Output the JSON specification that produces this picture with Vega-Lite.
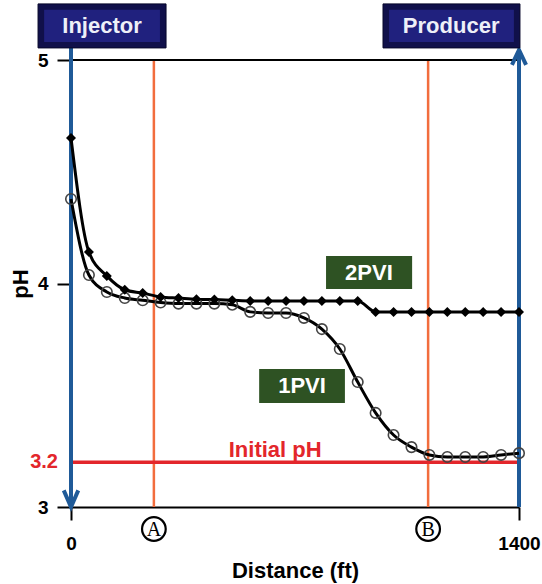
{
  "$schema": "https://vega.github.io/schema/vega-lite/v6.json",
  "width": 448,
  "height": 447,
  "autosize": "none",
  "padding": {"left": 71, "top": 60, "right": 23, "bottom": 77},
  "background": "white",
  "config": {"view": {"stroke": null}, "font": "Liberation Sans"},
  "datasets": {
    "ph": [
      {"series": "2PVI", "distance": 0, "ph": 4.651},
      {"series": "2PVI", "distance": 56, "ph": 4.141},
      {"series": "2PVI", "distance": 112, "ph": 4.034},
      {"series": "2PVI", "distance": 168, "ph": 3.972},
      {"series": "2PVI", "distance": 224, "ph": 3.957},
      {"series": "2PVI", "distance": 280, "ph": 3.94},
      {"series": "2PVI", "distance": 336, "ph": 3.935},
      {"series": "2PVI", "distance": 392, "ph": 3.93},
      {"series": "2PVI", "distance": 448, "ph": 3.928},
      {"series": "2PVI", "distance": 504, "ph": 3.925},
      {"series": "2PVI", "distance": 560, "ph": 3.922},
      {"series": "2PVI", "distance": 616, "ph": 3.922},
      {"series": "2PVI", "distance": 672, "ph": 3.922},
      {"series": "2PVI", "distance": 728, "ph": 3.922},
      {"series": "2PVI", "distance": 784, "ph": 3.922},
      {"series": "2PVI", "distance": 840, "ph": 3.922},
      {"series": "2PVI", "distance": 896, "ph": 3.922},
      {"series": "2PVI", "distance": 952, "ph": 3.873},
      {"series": "2PVI", "distance": 1008, "ph": 3.873},
      {"series": "2PVI", "distance": 1064, "ph": 3.873},
      {"series": "2PVI", "distance": 1120, "ph": 3.873},
      {"series": "2PVI", "distance": 1176, "ph": 3.873},
      {"series": "2PVI", "distance": 1232, "ph": 3.873},
      {"series": "2PVI", "distance": 1288, "ph": 3.873},
      {"series": "2PVI", "distance": 1344, "ph": 3.873},
      {"series": "2PVI", "distance": 1400, "ph": 3.873},
      {"series": "1PVI", "distance": 0, "ph": 4.378},
      {"series": "1PVI", "distance": 56, "ph": 4.038},
      {"series": "1PVI", "distance": 112, "ph": 3.962},
      {"series": "1PVI", "distance": 168, "ph": 3.935},
      {"series": "1PVI", "distance": 224, "ph": 3.925},
      {"series": "1PVI", "distance": 280, "ph": 3.915},
      {"series": "1PVI", "distance": 336, "ph": 3.91},
      {"series": "1PVI", "distance": 392, "ph": 3.91},
      {"series": "1PVI", "distance": 448, "ph": 3.91},
      {"series": "1PVI", "distance": 504, "ph": 3.905},
      {"series": "1PVI", "distance": 560, "ph": 3.873},
      {"series": "1PVI", "distance": 616, "ph": 3.868},
      {"series": "1PVI", "distance": 672, "ph": 3.868},
      {"series": "1PVI", "distance": 728, "ph": 3.846},
      {"series": "1PVI", "distance": 784, "ph": 3.796},
      {"series": "1PVI", "distance": 840, "ph": 3.707},
      {"series": "1PVI", "distance": 896, "ph": 3.559},
      {"series": "1PVI", "distance": 952, "ph": 3.421},
      {"series": "1PVI", "distance": 1008, "ph": 3.322},
      {"series": "1PVI", "distance": 1064, "ph": 3.268},
      {"series": "1PVI", "distance": 1120, "ph": 3.233},
      {"series": "1PVI", "distance": 1176, "ph": 3.224},
      {"series": "1PVI", "distance": 1232, "ph": 3.224},
      {"series": "1PVI", "distance": 1288, "ph": 3.224},
      {"series": "1PVI", "distance": 1344, "ph": 3.233},
      {"series": "1PVI", "distance": 1400, "ph": 3.241}
    ]
  },
  "layer": [
    {
      "data": {"values": [{"distance": 259}, {"distance": 1116}]},
      "mark": {"type": "rule", "color": "#f26d3d", "strokeWidth": 2.5},
      "encoding": {
        "x": {"field": "distance", "type": "quantitative", "scale": {"domain": [0, 1400], "nice": false, "zero": false}},
        "y": {"datum": 3, "type": "quantitative", "scale": {"domain": [3, 5], "nice": false, "zero": false}},
        "y2": {"datum": 5}
      }
    },
    {
      "data": {"values": [{"distance": 0, "distance2": 1400, "ph": 5}]},
      "mark": {"type": "rule", "color": "black", "strokeWidth": 2},
      "encoding": {
        "x": {"field": "distance", "type": "quantitative", "scale": {"domain": [0, 1400], "nice": false, "zero": false}},
        "x2": {"field": "distance2"},
        "y": {"field": "ph", "type": "quantitative", "scale": {"domain": [3, 5], "nice": false, "zero": false}}
      }
    },
    {
      "data": {"values": [{"distance": 0, "distance2": 1400, "ph": 3.2}]},
      "mark": {"type": "rule", "color": "#e3262b", "strokeWidth": 3.5},
      "encoding": {
        "x": {"field": "distance", "type": "quantitative", "scale": {"domain": [0, 1400], "nice": false, "zero": false}},
        "x2": {"field": "distance2"},
        "y": {"field": "ph", "type": "quantitative", "scale": {"domain": [3, 5], "nice": false, "zero": false}}
      }
    },
    {
      "data": {"values": [{"distance": 0, "ph": 3, "ph2": 5.06}, {"distance": 1400, "ph": 3, "ph2": 5.045}]},
      "mark": {"type": "rule", "color": "#1f5a98", "strokeWidth": 4},
      "encoding": {
        "x": {"field": "distance", "type": "quantitative", "scale": {"domain": [0, 1400], "nice": false, "zero": false}},
        "y": {"field": "ph", "type": "quantitative", "scale": {"domain": [3, 5], "nice": false, "zero": false}},
        "y2": {"field": "ph2"}
      }
    },
    {
      "data": {"values": [{"distance": 0, "ph": 3}]},
      "mark": {"type": "point", "shape": "M-1,-2.3L0,0L1,-2.3", "filled": false, "stroke": "#1f5a98", "strokeWidth": 4, "size": 210, "opacity": 1, "strokeJoin": "miter"},
      "encoding": {
        "x": {"field": "distance", "type": "quantitative", "scale": {"domain": [0, 1400], "nice": false, "zero": false}},
        "y": {"field": "ph", "type": "quantitative", "scale": {"domain": [3, 5], "nice": false, "zero": false}}
      }
    },
    {
      "data": {"values": [{"distance": 1400, "ph": 5.045}]},
      "mark": {"type": "point", "shape": "M-1,2.1L0,0L1,2.1", "filled": false, "stroke": "#1f5a98", "strokeWidth": 4, "size": 200, "opacity": 1, "strokeJoin": "miter"},
      "encoding": {
        "x": {"field": "distance", "type": "quantitative", "scale": {"domain": [0, 1400], "nice": false, "zero": false}},
        "y": {"field": "ph", "type": "quantitative", "scale": {"domain": [3, 5], "nice": false, "zero": false}}
      }
    },
    {
      "data": {"name": "ph"},
      "mark": {"type": "line", "color": "black", "strokeWidth": 3, "interpolate": "monotone"},
      "encoding": {
        "x": {"field": "distance", "type": "quantitative", "scale": {"domain": [0, 1400], "nice": false, "zero": false},
          "axis": {"values": [0, 1400], "labelExpr": "'' + datum.value", "title": "Distance (ft)", "titleFontSize": 22, "titleFontWeight": "bold", "titleColor": "black", "titlePadding": 7,
            "labelFontSize": 19, "labelFontWeight": "bold", "labelColor": "black", "labelPadding": 14, "labelFlush": false, "labelOverlap": false,
            "tickSize": 13, "tickWidth": 2, "tickColor": "black", "domainColor": "black", "domainWidth": 2, "grid": false}},
        "y": {"field": "ph", "type": "quantitative", "scale": {"domain": [3, 5], "nice": false, "zero": false},
          "axis": {"values": [3, 4, 5], "labelExpr": "'' + datum.value", "title": "pH", "titleFontSize": 22, "titleFontWeight": "bold", "titleColor": "black", "titlePadding": 5,
            "labelFontSize": 19, "labelFontWeight": "bold", "labelColor": "black", "labelPadding": 9, "labelOverlap": false, "labelFlush": false,
            "tickSize": 14, "tickWidth": 2, "tickColor": "black", "domain": false, "grid": false}},
        "detail": {"field": "series"}
      }
    },
    {
      "data": {"name": "ph"},
      "transform": [{"filter": "datum.series == '1PVI'"}],
      "mark": {"type": "point", "shape": "circle", "filled": false, "stroke": "#444444", "strokeWidth": 1.6, "size": 110, "opacity": 1},
      "encoding": {
        "x": {"field": "distance", "type": "quantitative", "scale": {"domain": [0, 1400], "nice": false, "zero": false}},
        "y": {"field": "ph", "type": "quantitative", "scale": {"domain": [3, 5], "nice": false, "zero": false}}
      }
    },
    {
      "data": {"name": "ph"},
      "transform": [{"filter": "datum.series == '2PVI'"}],
      "mark": {"type": "point", "shape": "diamond", "filled": true, "color": "black", "size": 100, "opacity": 1},
      "encoding": {
        "x": {"field": "distance", "type": "quantitative", "scale": {"domain": [0, 1400], "nice": false, "zero": false}},
        "y": {"field": "ph", "type": "quantitative", "scale": {"domain": [3, 5], "nice": false, "zero": false}}
      }
    },
    {
      "data": {"values": [
        {"distance": -103, "distance2": 297, "ph": 5.054, "ph2": 5.251},
        {"distance": 975, "distance2": 1403, "ph": 5.054, "ph2": 5.251}
      ]},
      "mark": {"type": "rect", "fill": "#10104a", "stroke": "#07072a", "strokeWidth": 1},
      "encoding": {
        "x": {"field": "distance", "type": "quantitative", "scale": {"domain": [0, 1400], "nice": false, "zero": false}},
        "x2": {"field": "distance2"},
        "y": {"field": "ph", "type": "quantitative", "scale": {"domain": [3, 5], "nice": false, "zero": false}},
        "y2": {"field": "ph2"}
      }
    },
    {
      "data": {"values": [
        {"distance": -84, "distance2": 278, "ph": 5.08, "ph2": 5.225},
        {"distance": 994, "distance2": 1384, "ph": 5.08, "ph2": 5.225}
      ]},
      "mark": {"type": "rect", "fill": "#20217e"},
      "encoding": {
        "x": {"field": "distance", "type": "quantitative", "scale": {"domain": [0, 1400], "nice": false, "zero": false}},
        "x2": {"field": "distance2"},
        "y": {"field": "ph", "type": "quantitative", "scale": {"domain": [3, 5], "nice": false, "zero": false}},
        "y2": {"field": "ph2"}
      }
    },
    {
      "data": {"values": [
        {"label": "Injector", "distance": 97, "ph": 5.152},
        {"label": "Producer", "distance": 1188, "ph": 5.152}
      ]},
      "mark": {"type": "text", "color": "#eef0f8", "fontSize": 22, "fontWeight": "bold", "align": "center", "baseline": "middle"},
      "encoding": {
        "x": {"field": "distance", "type": "quantitative", "scale": {"domain": [0, 1400], "nice": false, "zero": false}},
        "y": {"field": "ph", "type": "quantitative", "scale": {"domain": [3, 5], "nice": false, "zero": false}},
        "text": {"field": "label"}
      }
    },
    {
      "data": {"values": [
        {"distance": 797, "distance2": 1066, "ph": 3.975, "ph2": 4.123},
        {"distance": 588, "distance2": 856, "ph": 3.465, "ph2": 3.617}
      ]},
      "mark": {"type": "rect", "fill": "#2e5223"},
      "encoding": {
        "x": {"field": "distance", "type": "quantitative", "scale": {"domain": [0, 1400], "nice": false, "zero": false}},
        "x2": {"field": "distance2"},
        "y": {"field": "ph", "type": "quantitative", "scale": {"domain": [3, 5], "nice": false, "zero": false}},
        "y2": {"field": "ph2"}
      }
    },
    {
      "data": {"values": [
        {"label": "2PVI", "distance": 931, "ph": 4.049},
        {"label": "1PVI", "distance": 722, "ph": 3.541}
      ]},
      "mark": {"type": "text", "color": "white", "fontSize": 22, "fontWeight": "bold", "align": "center", "baseline": "middle"},
      "encoding": {
        "x": {"field": "distance", "type": "quantitative", "scale": {"domain": [0, 1400], "nice": false, "zero": false}},
        "y": {"field": "ph", "type": "quantitative", "scale": {"domain": [3, 5], "nice": false, "zero": false}},
        "text": {"field": "label"}
      }
    },
    {
      "data": {"values": [{"label": "Initial pH", "distance": 638, "ph": 3.224}]},
      "mark": {"type": "text", "color": "#e3262b", "fontSize": 22, "fontWeight": "bold", "align": "center", "baseline": "alphabetic"},
      "encoding": {
        "x": {"field": "distance", "type": "quantitative", "scale": {"domain": [0, 1400], "nice": false, "zero": false}},
        "y": {"field": "ph", "type": "quantitative", "scale": {"domain": [3, 5], "nice": false, "zero": false}},
        "text": {"field": "label"}
      }
    },
    {
      "data": {"values": [{"label": "3.2", "distance": 0, "ph": 3.2}]},
      "mark": {"type": "text", "color": "#e3262b", "fontSize": 20, "fontWeight": "bold", "align": "right", "baseline": "middle", "dx": -13},
      "encoding": {
        "x": {"field": "distance", "type": "quantitative", "scale": {"domain": [0, 1400], "nice": false, "zero": false}},
        "y": {"field": "ph", "type": "quantitative", "scale": {"domain": [3, 5], "nice": false, "zero": false}},
        "text": {"field": "label"}
      }
    },
    {
      "data": {"values": [{"label": "A", "distance": 259, "ph": 3}, {"label": "B", "distance": 1116, "ph": 3}]},
      "mark": {"type": "point", "shape": "circle", "filled": false, "stroke": "black", "strokeWidth": 2.2, "size": 560, "opacity": 1, "yOffset": 22},
      "encoding": {
        "x": {"field": "distance", "type": "quantitative", "scale": {"domain": [0, 1400], "nice": false, "zero": false}},
        "y": {"field": "ph", "type": "quantitative", "scale": {"domain": [3, 5], "nice": false, "zero": false}}
      }
    },
    {
      "data": {"values": [{"label": "A", "distance": 259, "ph": 3}, {"label": "B", "distance": 1116, "ph": 3}]},
      "mark": {"type": "text", "color": "black", "font": "Liberation Serif", "fontSize": 20, "align": "center", "baseline": "middle", "dy": 23},
      "encoding": {
        "x": {"field": "distance", "type": "quantitative", "scale": {"domain": [0, 1400], "nice": false, "zero": false}},
        "y": {"field": "ph", "type": "quantitative", "scale": {"domain": [3, 5], "nice": false, "zero": false}},
        "text": {"field": "label"}
      }
    }
  ]
}
